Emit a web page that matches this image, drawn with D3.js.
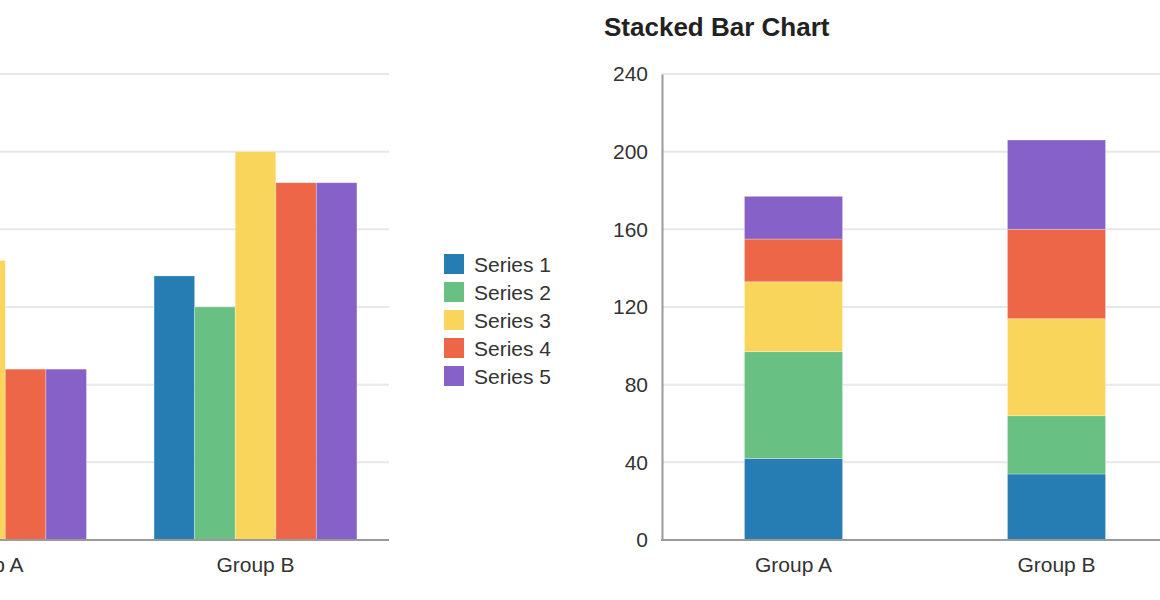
<!DOCTYPE html>
<html>
<head>
<meta charset="utf-8">
<script src="https://cdn.jsdelivr.net/npm/d3@7/dist/d3.min.js"></script>
<style>
  html, body { margin: 0; padding: 0; background: #fff; }
  svg { display: block; font-family: "Liberation Sans", Arial, Helvetica, sans-serif; }
</style>
</head>
<body>
<svg id="chart" width="1160" height="600"></svg>
<script>
const groups = ["Group A", "Group B"];
const seriesNames = ["Series 1", "Series 2", "Series 3", "Series 4", "Series 5"];
const series1 = [42, 34];
const series2 = [55, 30];
const series3 = [36, 50];
const series4 = [22, 46];
const series5 = [22, 46];
const colors = ["#267db3", "#68c182", "#fad55c", "#ed6647", "#8561c8"];
const barTicks = [0, 10, 20, 30, 40, 50, 60];
const stackTicks = [0, 40, 80, 120, 160, 200, 240];
const stackedTitle = "Stacked Bar Chart";

const allSeries = [series1, series2, series3, series4, series5];
const rows = groups.map((g, i) => {
  const r = { group: g };
  seriesNames.forEach((s, j) => { r[s] = allSeries[j][i]; });
  return r;
});

const svg = d3.select("#chart");
const gridColor = "#e5e8ec";
const axisColor = "#9a9a9a";
const textColor = "#333";
const fs = 21;

// ---------- Left: clustered bar chart (partially off-canvas) ----------
{
  const y = d3.scaleLinear().domain([0, 60]).range([540, 74]);
  const x0 = d3.scaleBand().domain(groups).range([-150.25, 390.75])
    .paddingInner(0.25).paddingOuter(0.125);
  const x1 = d3.scaleBand().domain(seriesNames).range([0, x0.bandwidth()]);
  const g = svg.append("g");

  g.append("g").selectAll("line").data(barTicks.filter(t => t > 0)).join("line")
    .attr("x1", -150).attr("x2", 389)
    .attr("y1", d => y(d)).attr("y2", d => y(d))
    .attr("stroke", gridColor).attr("stroke-width", 2);

  const grp = g.append("g").selectAll("g").data(rows).join("g")
    .attr("transform", d => `translate(${x0(d.group)},0)`);
  grp.selectAll("rect").data(d => seriesNames.map((s, j) => ({ s, j, v: d[s] }))).join("rect")
    .attr("x", d => x1(d.s))
    .attr("width", x1.bandwidth())
    .attr("y", d => y(d.v))
    .attr("height", d => y(0) - y(d.v))
    .attr("fill", d => colors[d.j])
    .attr("stroke", "rgba(255,255,255,0.35)")
    .attr("stroke-width", 0.8);

  const xAxis = d3.axisBottom(x0).tickSize(0).tickPadding(17);
  const ax = g.append("g").attr("transform", "translate(0,540)").call(xAxis);
  ax.select(".domain").attr("stroke", axisColor).attr("stroke-width", 2)
    .attr("d", "M-150,0H389");
  ax.selectAll("text").attr("font-size", fs).attr("fill", textColor);
}

// ---------- Legend ----------
{
  const lg = svg.append("g").attr("transform", "translate(444,254)");
  const item = lg.selectAll("g").data(seriesNames).join("g")
    .attr("transform", (d, i) => `translate(0,${i * 28})`);
  item.append("rect").attr("width", 20).attr("height", 20)
    .attr("fill", (d, i) => colors[i]);
  item.append("text").attr("x", 30).attr("y", 10).attr("dy", "0.36em")
    .attr("font-size", fs).attr("fill", textColor).text(d => d);
}

// ---------- Right: stacked bar chart ----------
{
  const y = d3.scaleLinear().domain([0, 240]).range([540, 74]);
  const x = d3.scaleBand().domain(groups).range([662, 1188])
    .paddingInner(0.627).paddingOuter(0.3135);
  const g = svg.append("g");

  svg.append("text").attr("x", 604).attr("y", 36)
    .attr("font-size", 26).attr("font-weight", "bold").attr("fill", "#222")
    .text(stackedTitle);

  g.append("g").selectAll("line").data(stackTicks.filter(t => t > 0)).join("line")
    .attr("x1", 662).attr("x2", 1160)
    .attr("y1", d => y(d)).attr("y2", d => y(d))
    .attr("stroke", gridColor).attr("stroke-width", 2);

  const stack = d3.stack().keys(seriesNames)(rows);
  g.append("g").selectAll("g").data(stack).join("g")
    .attr("fill", (d, i) => colors[i])
    .selectAll("rect").data(d => d).join("rect")
    .attr("x", d => x(d.data.group))
    .attr("width", x.bandwidth())
    .attr("y", d => y(d[1]))
    .attr("height", d => y(d[0]) - y(d[1]))
    .attr("stroke", "rgba(255,255,255,0.35)")
    .attr("stroke-width", 0.8);

  const yAxis = d3.axisLeft(y).tickValues(stackTicks).tickSize(0).tickPadding(14);
  const ay = g.append("g").attr("transform", "translate(662,0)").call(yAxis);
  ay.select(".domain").attr("stroke", axisColor).attr("stroke-width", 2);
  ay.selectAll("text").attr("font-size", fs).attr("fill", textColor);

  const xAxis = d3.axisBottom(x).tickSize(0).tickPadding(17);
  const ax = g.append("g").attr("transform", "translate(0,540)").call(xAxis);
  ax.select(".domain").attr("stroke", axisColor).attr("stroke-width", 2)
    .attr("d", "M661,0H1160");
  ax.selectAll("text").attr("font-size", fs).attr("fill", textColor);
}
</script>
</body>
</html>
